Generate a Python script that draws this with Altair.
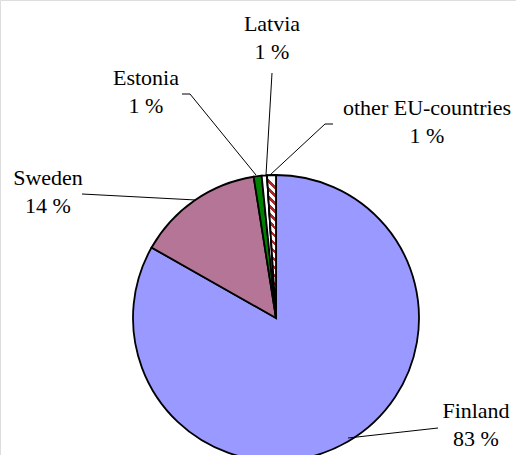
import altair as alt
import pandas as pd

# ---- data ----
countries = ["Finland", "Sweden", "Estonia", "Latvia", "other EU-countries"]
shares = [83.2, 14.3, 0.9, 0.6, 1.0]
pct_labels = ["83 %", "14 %", "1 %", "1 %", "1 %"]
colors = ["#9999FF", "#B47596", "#008000", "#FFFFFF", "#A52A2A"]

# ---- layout (annotation positions in px) ----
CX, CY, R = 276, 318, 143
label_x = [476, 48, 146, 272, 427]
label_y = [418, 185, 85, 31, 115]
LINE_GAP = 28
leader_pts = [
    [(438, 428), (348, 438)],
    [(82, 194), (196, 200)],
    [(182, 94), (190, 94), (256, 175)],
    [(272, 73), (266, 175)],
    [(333, 124), (325, 124), (270, 175)],
]

pie_df = pd.DataFrame({"country": countries, "share": shares, "idx": list(range(len(countries)))})
lab_df = pd.DataFrame({"country": countries, "pct": pct_labels, "lx": label_x, "ly": label_y})
lab_df["ly2"] = lab_df["ly"] + LINE_GAP
rows = []
for g, pts in enumerate(leader_pts):
    for k, (px, py) in enumerate(pts):
        rows.append({"g": g, "k": k, "px": px, "py": py})
line_df = pd.DataFrame(rows)

theta = alt.Theta("start:Q", scale=alt.Scale(domain=[0, 100]), stack=None)

base = alt.Chart(pie_df).transform_window(
    end="sum(share)", sort=[alt.SortField("idx")], frame=[None, 0]
).transform_calculate(start="datum.end - datum.share")

pie = base.mark_arc(outerRadius=R, stroke="black", strokeWidth=1.8).encode(
    theta=theta,
    theta2="end:Q",
    x=alt.value(CX),
    y=alt.value(CY),
    color=alt.Color("country:N", scale=alt.Scale(domain=countries, range=colors), legend=None),
)

# striped fill for the "other EU-countries" slice
W_H = 9 / 143
period = 8 / 143
stops = []
t = 0.0
while t < 1.0:
    a = t
    b = min(t + period * 0.45, 1.0)
    c = min(t + period, 1.0)
    stops += [
        alt.GradientStop(color="#A52A2A", offset=a),
        alt.GradientStop(color="#A52A2A", offset=b),
        alt.GradientStop(color="#FFFFFF", offset=b),
        alt.GradientStop(color="#FFFFFF", offset=c),
    ]
    t += period
grad = alt.LinearGradient(gradient="linear", stops=stops, x1=0, y1=1, x2=W_H, y2=0)

stripes = base.transform_filter(alt.datum.country == "other EU-countries").mark_arc(
    outerRadius=R, stroke="black", strokeWidth=1.8, fill=grad
).encode(theta=theta, theta2="end:Q", x=alt.value(CX), y=alt.value(CY))

leaders = alt.Chart(line_df).mark_line(color="black", strokeWidth=1).encode(
    x=alt.X("px:Q", scale=None),
    y=alt.Y("py:Q", scale=None),
    detail="g:N",
    order="k:Q",
)

font = "Liberation Serif"
names = alt.Chart(lab_df).mark_text(font=font, fontSize=22, align="center", baseline="alphabetic", color="black").encode(
    x=alt.X("lx:Q", scale=None), y=alt.Y("ly:Q", scale=None), text="country:N"
)
pcts = alt.Chart(lab_df).mark_text(font=font, fontSize=22, align="center", baseline="alphabetic", color="black").encode(
    x=alt.X("lx:Q", scale=None), y=alt.Y("ly2:Q", scale=None), text="pct:N"
)

chart = alt.layer(pie, stripes, leaders, names, pcts).properties(
    width=516, height=455, padding=0, autosize=alt.AutoSizeParams(type="none")
).configure_view(stroke=None).configure(background="white")

chart.save("out.html", embed_options={"renderer": "svg", "actions": False})
